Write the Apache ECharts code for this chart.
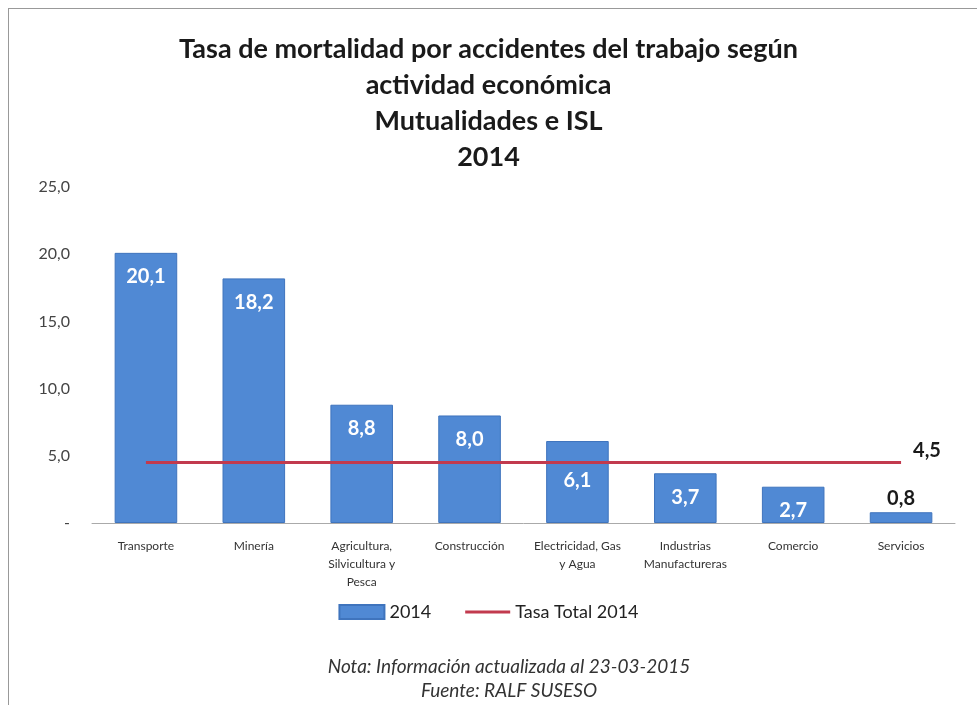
<!DOCTYPE html>
<html lang="es">
<head>
<meta charset="utf-8">
<script src="https://cdn.jsdelivr.net/npm/echarts@6/dist/echarts.min.js"></script>
</head>
<body style="margin:0;background:#fff">
<div id="main" style="width:977px;height:705px"></div>
<div style="position:absolute;left:8px;top:8px;width:980px;height:700px;border-left:1px solid #999;border-top:1px solid #999;pointer-events:none"></div>
<script>
    var categories = ['Transporte', 'Minería', 'Agricultura,\nSilvicultura y\nPesca', 'Construcción',
        'Electricidad, Gas\ny Agua', 'Industrias\nManufactureras', 'Comercio', 'Servicios'];
    var tasas = [20.1, 18.2, 8.8, 8.0, 6.1, 3.7, 2.7, 0.8];
    var tasaTotal = [4.5, 4.5, 4.5, 4.5, 4.5, 4.5, 4.5, 4.5];
    var yTicks = [0, 5, 10, 15, 20, 25];

    function coma(v) {
        return v.toFixed(1).replace('.', ',');
    }

    // etiquetas: blancas dentro de la barra, salvo la última (negra, encima)
    var barData = tasas.map(function (v, i) {
        var item = {value: v};
        if (i === tasas.length - 1) {
            item.label = {position: 'top', distance: 4, color: '#1a1a1a'};
        } else if (i === 4) {
            item.label = {distance: 30};
        }
        return item;
    });

    var chart = echarts.init(document.getElementById('main'));
    chart.setOption({
        animation: false,
        title: [{
            text: 'Tasa de mortalidad por accidentes del trabajo según\nactividad económica\nMutualidades e ISL\n2014',
            left: 'center',
            top: 26,
            textStyle: {fontFamily: 'Lato', fontSize: 27, fontWeight: 'bold', color: '#1a1a1a', lineHeight: 36}
        }, {
            text: 'Nota: Información actualizada al 23-03-2015\nFuente: RALF SUSESO',
            left: 504,
            top: 650,
            textAlign: 'center',
            textStyle: {fontFamily: 'Lato', fontSize: 19, fontWeight: 'normal', fontStyle: 'italic', color: '#333', lineHeight: 24}
        }],
        legend: {
            top: 598,
            left: 'center',
            itemGap: 34,
            itemWidth: 45,
            itemHeight: 14,
            textStyle: {fontFamily: 'Lato', fontSize: 18, color: '#222'},
            data: [{name: '2014', icon: 'rect'}, {name: 'Tasa Total 2014', icon: 'path://M0,0h48v3h-48z'}]
        },
        grid: {left: 92, right: 22, top: 187, bottom: 182},
        xAxis: {
            type: 'category',
            data: categories,
            axisTick: {show: false},
            axisLine: {lineStyle: {color: '#aaa'}},
            axisLabel: {fontFamily: 'Lato', fontSize: 12, color: '#333', lineHeight: 18, margin: 14, interval: 0}
        },
        yAxis: {
            type: 'value',
            min: yTicks[0],
            max: yTicks[yTicks.length - 1],
            interval: 5,
            splitLine: {show: false},
            axisLabel: {
                fontFamily: 'Lato', fontSize: 16, color: '#444', margin: 22,
                formatter: function (v) { return v === 0 ? '-' : coma(v); }
            }
        },
        series: [{
            name: '2014',
            type: 'bar',
            data: barData,
            barWidth: '58%',
            itemStyle: {color: '#5089d4', borderColor: '#3f74bd', borderWidth: 1},
            label: {
                show: true,
                position: 'insideTop',
                distance: 14,
                fontFamily: 'Lato', fontSize: 20, fontWeight: 'bold', color: '#fff',
                formatter: function (p) { return coma(p.value); }
            }
        }, {
            name: 'Tasa Total 2014',
            type: 'line',
            data: tasaTotal,
            symbol: 'none',
            lineStyle: {color: '#c23a4e', width: 3},
            itemStyle: {color: '#c23a4e'},
            endLabel: {
                show: true,
                distance: 12,
                offset: [0, -12],
                fontFamily: 'Lato', fontSize: 20, fontWeight: 'bold', color: '#1a1a1a',
                formatter: function (p) { return coma(p.value); }
            }
        }]
    });
</script>
</body>
</html>
